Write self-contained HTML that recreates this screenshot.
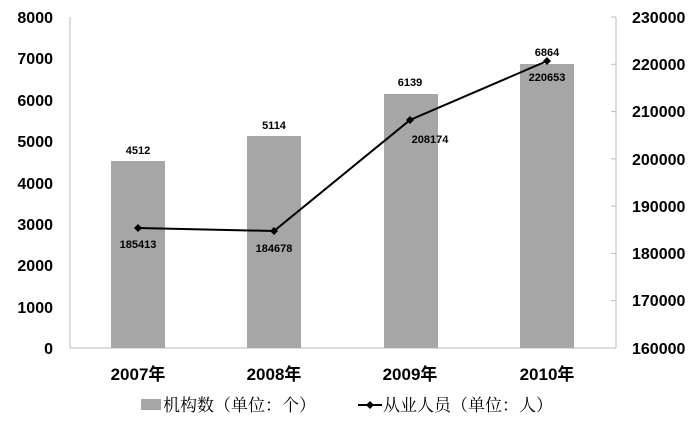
<!DOCTYPE html>
<html><head><meta charset="utf-8"><style>
html,body{margin:0;padding:0;background:#fff;}
</style></head><body>
<svg width="700" height="417" xmlns="http://www.w3.org/2000/svg" font-family="Liberation Sans, 'Noto Sans CJK SC', sans-serif">
<rect width="700" height="417" fill="#fff"/>
<line x1="70" y1="17" x2="70" y2="348" stroke="#bbb" stroke-width="1"/>
<line x1="70" y1="348" x2="616" y2="348" stroke="#bbb" stroke-width="1"/>
<line x1="616" y1="17" x2="616" y2="348" stroke="#bbb" stroke-width="1"/>
<g stroke="#bbb">
<line x1="611" y1="17" x2="616" y2="17"/><line x1="611" y1="64.3" x2="616" y2="64.3"/>
<line x1="611" y1="111.6" x2="616" y2="111.6"/><line x1="611" y1="158.9" x2="616" y2="158.9"/>
<line x1="611" y1="206.1" x2="616" y2="206.1"/><line x1="611" y1="253.4" x2="616" y2="253.4"/>
<line x1="611" y1="300.7" x2="616" y2="300.7"/>
</g>
<g font-size="16" font-weight="bold" text-anchor="end" fill="#000">
<text x="53" y="23">8000</text><text x="53" y="64">7000</text><text x="53" y="106">6000</text>
<text x="53" y="147">5000</text><text x="53" y="189">4000</text><text x="53" y="230">3000</text>
<text x="53" y="271">2000</text><text x="53" y="313">1000</text><text x="53" y="354">0</text>
</g>
<g font-size="16" font-weight="bold" fill="#000">
<text x="632" y="23">230000</text><text x="632" y="70">220000</text><text x="632" y="117">210000</text>
<text x="632" y="165">200000</text><text x="632" y="212">190000</text><text x="632" y="259">180000</text>
<text x="632" y="306">170000</text><text x="632" y="354">160000</text>
</g>
<g fill="#a6a6a6">
<rect x="111" y="161" width="54" height="187"/>
<rect x="247" y="136" width="54" height="212"/>
<rect x="384" y="94" width="54" height="254"/>
<rect x="520" y="64" width="54" height="284"/>
</g>
<g font-size="11" font-weight="bold" text-anchor="middle" fill="#000">
<text x="138" y="154">4512</text><text x="274" y="129">5114</text>
<text x="410" y="86">6139</text><text x="547" y="56">6864</text>
<text x="138" y="248">185413</text><text x="274" y="252">184678</text>
<text x="430" y="143">208174</text><text x="547" y="81">220653</text>
</g>
<polyline points="138,228 274,231 410,120 547,61" fill="none" stroke="#000" stroke-width="2"/>
<g fill="#000">
<path d="M138,224 l4,4 -4,4 -4,-4z"/><path d="M274,227 l4,4 -4,4 -4,-4z"/>
<path d="M410,116 l4,4 -4,4 -4,-4z"/><path d="M547,57 l4,4 -4,4 -4,-4z"/>
</g>
<g font-size="17" font-weight="bold" text-anchor="middle" fill="#000">
<text x="138" y="380">2007年</text><text x="274" y="380">2008年</text>
<text x="410" y="380">2009年</text><text x="547" y="380">2010年</text>
</g>
<rect x="141" y="399" width="20" height="11" fill="#a6a6a6"/>
<text x="163" y="411" font-size="17" fill="#000" font-family="'Noto Serif CJK SC', serif">机构数（单位：个）</text>
<line x1="358" y1="405" x2="382" y2="405" stroke="#000" stroke-width="2"/>
<path d="M370,401 l4,4 -4,4 -4,-4z" fill="#000"/>
<text x="383" y="411" font-size="17" fill="#000" font-family="'Noto Serif CJK SC', serif">从业人员（单位：人）</text>
</svg>
</body></html>
